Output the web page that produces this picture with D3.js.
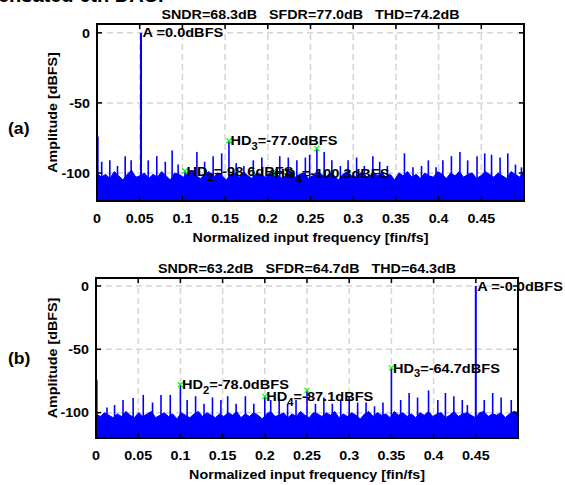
<!DOCTYPE html>
<html>
<head>
<meta charset="utf-8">
<script src="https://cdn.jsdelivr.net/npm/d3@7"></script>
<style>
  body { margin: 0; background: #fff; }
  svg { display: block; }
  text { font-family: "Liberation Sans", Arial, sans-serif; font-weight: bold; fill: #000; white-space: pre; }
</style>
</head>
<body>
<script>
// axis ticks shared by both panels
const xTicks = [0, 0.05, 0.1, 0.15, 0.2, 0.25, 0.3, 0.35, 0.4, 0.45, 0.5]
const xTickLabels = ["0", "0.05", "0.1", "0.15", "0.2", "0.25", "0.3", "0.35", "0.4", "0.45", ""]
const yTicks = [0, -50, -100]
const yTickLabels = ["0", "-50", "-100"]
const xLabel = "Normalized input frequency [fin/fs]"
const yLabel = "Amplitude [dBFS]"

// ---- panel (a)
const titleA = "SNDR=68.3dB   SFDR=77.0dB   THD=74.2dB"
const signalA = [0.0515, 0.0]
const signalLabelA = "A =0.0dBFS"
const harmFreqA = [0.103, 0.1545, 0.206, 0.2575]
const harmDbA = [-98.6, -77.0, -100.3, -82.4]
const harmNameA = ["2", "3", "4", null]
const spurFreqA = [0.001, 0.0055, 0.015, 0.024, 0.033, 0.04, 0.06, 0.07, 0.08, 0.088, 0.095,
  0.117, 0.126, 0.136, 0.146, 0.163, 0.172, 0.183, 0.193, 0.214, 0.224, 0.234, 0.244, 0.249,
  0.266, 0.275, 0.285, 0.294, 0.304, 0.313, 0.323, 0.331, 0.34, 0.36, 0.37, 0.38, 0.388,
  0.397, 0.405, 0.415, 0.425, 0.434, 0.445, 0.454, 0.462, 0.472, 0.481, 0.49, 0.497]
const spurDbA = [-74, -92, -91, -95, -88, -91, -91, -88, -92, -84, -94,
  -85, -92, -88, -86, -93, -95, -91, -89, -88, -89, -91, -89, -87,
  -85, -91, -95, -91, -89, -95, -88, -92, -95, -86, -96, -95, -91,
  -96, -91, -88, -85, -91, -88, -86, -87, -89, -86, -94, -96]
const noiseA = [
  -100, -103, -101, -104, -99, -102, -105, -101, -98, -103,
  -102, -100, -104, -101, -103, -99, -102, -105, -100, -101,
  -103, -100, -98, -102, -104, -101, -99, -103, -100, -102,
  -105, -101, -100, -103, -99, -102, -104, -100, -101, -103,
  -100, -98, -102, -104, -101, -99, -103, -101, -100, -104,
  -102, -99, -101, -103, -100, -102, -105, -101, -99, -102,
  -103, -100, -101, -104, -99, -102, -100, -103, -101, -105,
  -100, -102, -99, -103, -101, -104, -100, -102, -103, -99,
  -101, -104, -100, -102, -99, -103, -101, -100, -104, -102,
  -99, -101, -103, -100, -102, -104, -99, -101, -103, -98]

// ---- panel (b)
const titleB = "SNDR=63.2dB   SFDR=64.7dB   THD=64.3dB"
const signalB = [0.45, 0.0]
const signalLabelB = "A =-0.0dBFS"
const harmFreqB = [0.1, 0.35, 0.2, 0.25]
const harmDbB = [-78.0, -64.7, -87.1, -82.4]
const harmNameB = ["2", "3", "4", null]
const spurFreqB = [0.001, 0.013, 0.022, 0.032, 0.044, 0.056, 0.067, 0.077, 0.088, 0.108, 0.118,
  0.128, 0.138, 0.148, 0.156, 0.166, 0.177, 0.187, 0.207, 0.217, 0.227, 0.237, 0.26, 0.27,
  0.28, 0.29, 0.3, 0.31, 0.32, 0.33, 0.34, 0.361, 0.371, 0.381, 0.394, 0.405, 0.414, 0.424,
  0.434, 0.44, 0.46, 0.47, 0.48, 0.492]
const spurDbB = [-74, -96, -94, -90, -88.5, -86, -92, -86, -86, -90, -87,
  -93, -88, -90, -87, -93, -87, -93, -90, -88, -93, -90, -93, -88,
  -93, -90, -87, -92, -92, -95, -92, -90, -84.5, -88, -82.4, -90, -84.5, -87,
  -90, -94, -90, -84.5, -88, -90]
const noiseB = [
  -101, -103, -100, -102, -104, -101, -103, -99, -102, -104,
  -100, -103, -101, -99, -104, -102, -100, -103, -101, -105,
  -100, -102, -104, -101, -99, -103, -100, -102, -104, -101,
  -103, -100, -102, -99, -104, -101, -103, -100, -102, -105,
  -101, -99, -103, -102, -100, -104, -101, -103, -99, -102,
  -104, -100, -101, -103, -100, -102, -99, -104, -101, -103,
  -100, -102, -105, -101, -99, -103, -100, -102, -101, -104,
  -99, -102, -100, -103, -101, -104, -100, -102, -99, -103,
  -101, -100, -104, -102, -99, -103, -101, -100, -102, -104,
  -100, -99, -103, -101, -102, -100, -104, -101, -99, -100]

const width = 565, height = 485
const blue = "#0000ff", green = "#00ff00"
const stretch = 1.1

const svg = d3.select("body").append("svg")
  .attr("width", width)
  .attr("height", height)

/* text in the picture is wider than Arial, so stretch it along its direction */
const label = (parent, x, y, str, size, anchor, rot) => {
  const g = parent.append("g")
    .attr("transform", `translate(${x},${y}) rotate(${rot || 0}) scale(${stretch},1)`)
  return g.append("text")
    .attr("font-size", size)
    .attr("text-anchor", anchor || "start")
    .text(str)
}

// cut-off caption line at the very top of the page
svg.append("text")
  .attr("x", -2).attr("y", 2)
  .attr("font-family", "Liberation Serif, serif")
  .attr("font-size", 20)
  .text("ensated 6th DAC.")

const drawPanel = (p) => {
  const x = d3.scaleLinear().domain([0, 0.5]).range([p.left, p.right])
  const y = d3.scaleLinear().domain([-120, 6.3]).range([p.bottom, p.top])
  const g = svg.append("g")

  g.append("clipPath").attr("id", "clip" + p.id)
    .append("rect")
    .attr("x", p.left).attr("y", p.top)
    .attr("width", p.right - p.left).attr("height", p.bottom - p.top)

  // dashed grid
  g.selectAll(".gx").data(xTicks.slice(1, -1)).enter().append("line")
    .attr("x1", d => x(d)).attr("x2", d => x(d))
    .attr("y1", p.top).attr("y2", p.bottom)
    .attr("stroke", "#d4d4d4").attr("stroke-width", 1.5).attr("stroke-dasharray", "6,4")
  g.selectAll(".gy").data(yTicks).enter().append("line")
    .attr("x1", p.left).attr("x2", p.right)
    .attr("y1", d => y(d)).attr("y2", d => y(d))
    .attr("stroke", "#d4d4d4").attr("stroke-width", 1.5).attr("stroke-dasharray", "6,4")

  const data = g.append("g").attr("clip-path", `url(#clip${p.id})`)

  // noise floor
  const step = 0.5 / (p.noise.length - 1)
  const area = d3.area()
    .x((d, i) => x(i * step))
    .y0(y(-120))
    .y1(d => y(d))
  data.append("path").datum(p.noise)
    .attr("d", area)
    .attr("fill", blue)
    .attr("stroke", blue).attr("stroke-width", 1)

  // spurs
  data.selectAll(".spur").data(p.spurF).enter().append("line")
    .attr("x1", d => x(d)).attr("x2", d => x(d))
    .attr("y1", y(-120)).attr("y2", (d, i) => y(p.spurDb[i]))
    .attr("stroke", blue).attr("stroke-width", 1.6)

  // harmonics
  data.selectAll(".harm").data(p.harmF).enter().append("line")
    .attr("x1", d => x(d)).attr("x2", d => x(d))
    .attr("y1", y(-120)).attr("y2", (d, i) => y(p.harmDb[i]))
    .attr("stroke", blue).attr("stroke-width", 1.6)

  // fundamental
  data.append("line")
    .attr("x1", x(p.signal[0])).attr("x2", x(p.signal[0]))
    .attr("y1", y(-120)).attr("y2", y(p.signal[1]))
    .attr("stroke", blue).attr("stroke-width", 2)

  // green x markers
  p.harmF.forEach((f, i) => {
    const cx = x(f), cy = y(p.harmDb[i]), s = 2.5
    g.append("path")
      .attr("d", `M${cx - s},${cy - s}L${cx + s},${cy + s}M${cx - s},${cy + s}L${cx + s},${cy - s}`)
      .attr("stroke", green).attr("stroke-width", 1.2)
  })

  // axes box and inward ticks
  g.append("rect")
    .attr("x", p.left).attr("y", p.top)
    .attr("width", p.right - p.left).attr("height", p.bottom - p.top)
    .attr("fill", "none").attr("stroke", "#000").attr("stroke-width", 2)
  xTicks.forEach(t => {
    g.append("line").attr("x1", x(t)).attr("x2", x(t)).attr("y1", p.bottom).attr("y2", p.bottom - 5)
      .attr("stroke", "#000").attr("stroke-width", 1.5)
    g.append("line").attr("x1", x(t)).attr("x2", x(t)).attr("y1", p.top).attr("y2", p.top + 5)
      .attr("stroke", "#000").attr("stroke-width", 1.5)
  })
  yTicks.forEach(t => {
    g.append("line").attr("x1", p.left).attr("x2", p.left + 5).attr("y1", y(t)).attr("y2", y(t))
      .attr("stroke", "#000").attr("stroke-width", 1.5)
    g.append("line").attr("x1", p.right).attr("x2", p.right - 5).attr("y1", y(t)).attr("y2", y(t))
      .attr("stroke", "#000").attr("stroke-width", 1.5)
  })

  // tick labels
  xTicks.forEach((t, i) => label(g, x(t), p.bottom + 22, xTickLabels[i], 13, "middle"))
  yTicks.forEach((t, i) => label(g, p.left - 7, y(t) + 4.7, yTickLabels[i], 13, "end"))

  // titles
  label(g, (p.left + p.right) / 2, p.top - 5.5, p.title, 13, "middle")
  label(g, (p.left + p.right) / 2, p.bottom + 41, xLabel, 13, "middle")
  label(g, 56.5, (p.top + p.bottom) / 2, yLabel, 13, "middle", -90)
  label(g, 8, p.tag[1], p.tag[0], 16, "start")

  // annotations
  const note = (f, db, name, rest) => {
    const gg = g.append("g")
      .attr("transform", `translate(${x(f) + 1.5},${y(db)}) scale(1.12,1)`)
    const t = gg.append("text").attr("font-size", 13).attr("dy", "0.35em")
    if (name === null) {
      t.text(rest)
    } else {
      t.append("tspan").text("HD")
      t.append("tspan").attr("font-size", 10).attr("dy", 5).text(name)
      t.append("tspan").attr("dy", -5).text(rest)
    }
  }
  note(p.signal[0], p.signal[1], null, p.signalLabel)
  p.harmF.forEach((f, i) => {
    if (p.harmName[i] !== null)
      note(f, p.harmDb[i], p.harmName[i], "=" + p.harmDb[i].toFixed(1) + "dBFS")
  })
}

drawPanel({
  id: "a", left: 97, right: 524, top: 24, bottom: 201,
  title: titleA, tag: ["(a)", 134],
  noise: noiseA, spurF: spurFreqA, spurDb: spurDbA,
  harmF: harmFreqA, harmDb: harmDbA, harmName: harmNameA,
  signal: signalA, signalLabel: signalLabelA
})

drawPanel({
  id: "b", left: 96, right: 518, top: 278, bottom: 438,
  title: titleB, tag: ["(b)", 364],
  noise: noiseB, spurF: spurFreqB, spurDb: spurDbB,
  harmF: harmFreqB, harmDb: harmDbB, harmName: harmNameB,
  signal: signalB, signalLabel: signalLabelB
})
</script>
</body>
</html>
